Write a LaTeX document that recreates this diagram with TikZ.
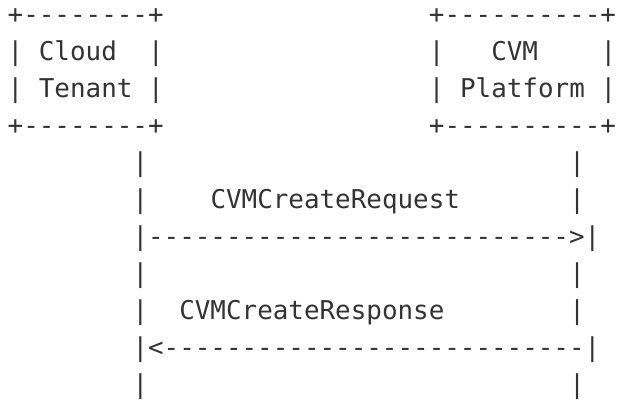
\documentclass[tikz,border=0pt]{standalone}
\usepackage{fontspec}
\setmonofont{DejaVu Sans Mono}
\begin{document}
\begin{tikzpicture}[x=15.6pt,y=-37pt,
  mono/.style={font=\ttfamily\fontsize{25.9}{37}\selectfont, text=black!80, anchor=base west, inner sep=0pt}]
\useasboundingbox (-0.481,-0.635) rectangle ++(617pt,-400pt);
% Cloud Tenant box
\node[mono] (tenanttop) at (0,0) {+--------+};
\node[mono] (tenantl1) at (0,1) {|};
\node[mono] (cloud) at (2,1) {Cloud};
\node[mono] (tenantr1) at (9,1) {|};
\node[mono] (tenantl2) at (0,2) {|};
\node[mono] (tenant) at (2,2) {Tenant};
\node[mono] (tenantr2) at (9,2) {|};
\node[mono] (tenantbot) at (0,3) {+--------+};
% CVM Platform box
\node[mono] (cvmtop) at (27,0) {+----------+};
\node[mono] (cvml1) at (27,1) {|};
\node[mono] (cvm) at (31,1) {CVM};
\node[mono] (cvmr1) at (38,1) {|};
\node[mono] (cvml2) at (27,2) {|};
\node[mono] (platform) at (29,2) {Platform};
\node[mono] (cvmr2) at (38,2) {|};
\node[mono] (cvmbot) at (27,3) {+----------+};
% lifelines
\node[mono] (lifel4) at (8,4) {|};
\node[mono] (lifer4) at (36,4) {|};
\node[mono] (lifel5) at (8,5) {|};
\node[mono] (request) at (13,5) {CVMCreateRequest};
\node[mono] (lifer5) at (36,5) {|};
\node[mono] (reqarrow) at (8,6) {|--------------------------->|};
\node[mono] (lifel7) at (8,7) {|};
\node[mono] (lifer7) at (36,7) {|};
\node[mono] (lifel8) at (8,8) {|};
\node[mono] (response) at (11,8) {CVMCreateResponse};
\node[mono] (lifer8) at (36,8) {|};
\node[mono] (resarrow) at (8,9) {|<---------------------------|};
\node[mono] (lifel10) at (8,10) {|};
\node[mono] (lifer10) at (36,10) {|};
\end{tikzpicture}
\end{document}
